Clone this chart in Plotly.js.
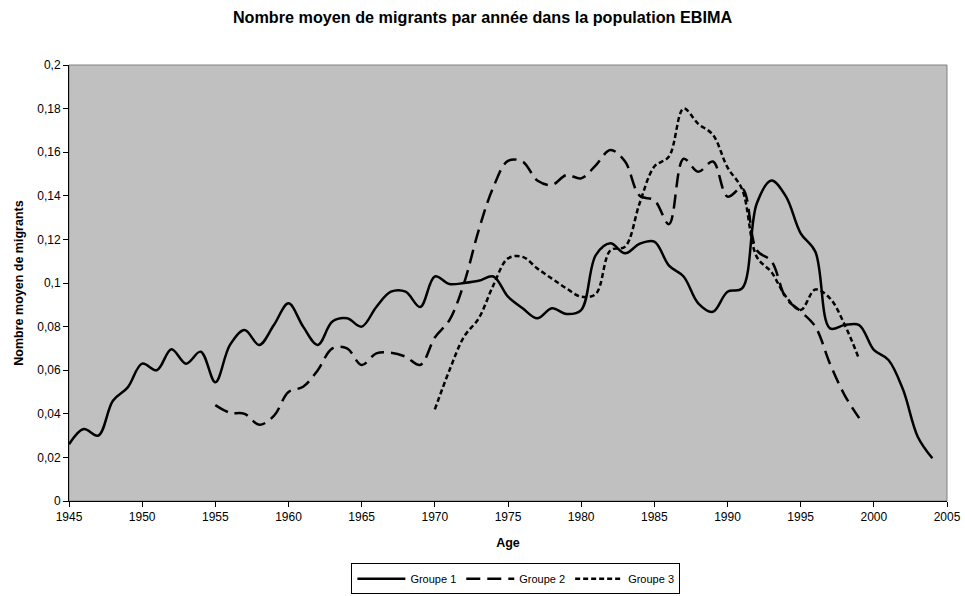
<!DOCTYPE html>
<html>
<head>
<meta charset="utf-8">
<script src="https://cdn.plot.ly/plotly-3.0.1.min.js"></script>
<style>html,body{margin:0;padding:0;background:#fff;}#chart{width:965px;height:596px;}</style>
</head>
<body>
<div id="chart"></div>
<script>
const years1 = [1945,1946,1947,1948,1949,1950,1951,1952,1953,1954,1955,1956,1957,1958,1959,1960,1961,1962,1963,1964,1965,1966,1967,1968,1969,1970,1971,1972,1973,1974,1975,1976,1977,1978,1979,1980,1981,1982,1983,1984,1985,1986,1987,1988,1989,1990,1991,1992,1993,1994,1995,1996,1997,1998,1999,2000,2001,2002,2003,2004];
const groupe1 = [0.026,0.033,0.030,0.046,0.052,0.063,0.060,0.0696,0.063,0.0685,0.0545,0.0716,0.0784,0.0716,0.0807,0.0907,0.080,0.0716,0.0823,0.0838,0.080,0.089,0.096,0.096,0.089,0.103,0.0995,0.100,0.101,0.103,0.0937,0.0884,0.0838,0.0884,0.0858,0.0876,0.1128,0.1182,0.1136,0.118,0.119,0.108,0.103,0.0907,0.0868,0.096,0.0975,0.1365,0.147,0.1396,0.1228,0.1144,0.0792,0.0807,0.0807,0.0693,0.0647,0.051,0.0295,0.0196];

const years2 = [1955,1956,1957,1958,1959,1960,1961,1962,1963,1964,1965,1966,1967,1968,1969,1970,1971,1972,1973,1974,1975,1976,1977,1978,1979,1980,1981,1982,1983,1984,1985,1986,1987,1988,1989,1990,1991,1992,1993,1994,1995,1996,1997,1998,1999];
const groupe2 = [0.044,0.0405,0.040,0.035,0.039,0.050,0.0524,0.060,0.070,0.070,0.0624,0.0677,0.068,0.0662,0.0624,0.075,0.083,0.100,0.1243,0.144,0.156,0.1557,0.147,0.145,0.1495,0.148,0.154,0.161,0.1557,0.140,0.138,0.127,0.157,0.151,0.1557,0.1396,0.1434,0.115,0.110,0.093,0.087,0.080,0.063,0.0486,0.038];

const years3 = [1970,1971,1972,1973,1974,1975,1976,1977,1978,1979,1980,1981,1982,1983,1984,1985,1986,1987,1988,1989,1990,1991,1992,1993,1994,1995,1996,1997,1998,1999];
const groupe3 = [0.042,0.060,0.0754,0.0838,0.099,0.1113,0.112,0.1067,0.102,0.0975,0.0937,0.095,0.115,0.1167,0.1367,0.1534,0.158,0.180,0.173,0.168,0.153,0.143,0.112,0.105,0.0937,0.0876,0.097,0.093,0.081,0.065];

const seriesNames = ['Groupe 1','Groupe 2','Groupe 3'];
const font = 'Liberation Sans, Arial, sans-serif';

const traces = [
  {x: years1, y: groupe1, name: seriesNames[0], mode: 'lines',
   line: {color: '#000', width: 2.5, shape: 'spline', smoothing: 1, dash: 'solid'}},
  {x: years2, y: groupe2, name: seriesNames[1], mode: 'lines',
   line: {color: '#000', width: 2.5, shape: 'spline', smoothing: 1, dash: '14px,7px'}},
  {x: years3, y: groupe3, name: seriesNames[2], mode: 'lines',
   line: {color: '#000', width: 2.5, shape: 'spline', smoothing: 1, dash: '5px,3px'}}
];

const layout = {
  width: 965, height: 596,
  margin: {l: 69, r: 18, t: 65, b: 95, autoexpand: false},
  paper_bgcolor: '#fff',
  plot_bgcolor: '#C0C0C0',
  separators: ', ',
  font: {family: font, size: 12, color: '#000'},
  title: {text: '<b>Nombre moyen de migrants par année dans la population EBIMA</b>',
          font: {family: font, size: 16.2, color: '#000'}, x: 0.5, xanchor: 'center', y: 0.971, yanchor: 'middle'},
  xaxis: {range: [1945, 2005], dtick: 5, tick0: 1945, ticks: 'outside', ticklen: 5, tickcolor: '#000',
          showline: true, linecolor: '#000', linewidth: 1, showgrid: false, zeroline: false,
          tickfont: {family: font, size: 12, color: '#000'},
          title: {text: '<b>Age</b>', font: {family: font, size: 12.5, color: '#000'}, standoff: 14}},
  yaxis: {range: [0, 0.2], dtick: 0.02, tick0: 0, ticks: 'outside', ticklen: 5, tickcolor: '#000',
          showline: true, linecolor: '#000', linewidth: 1, showgrid: false, zeroline: false,
          tickfont: {family: font, size: 12, color: '#000'},
          title: {text: '<b>Nombre moyen de migrants</b>', font: {family: font, size: 12.5, color: '#000'}, standoff: 10}},
  shapes: [{type: 'rect', xref: 'paper', yref: 'paper', x0: 0, x1: 1, y0: 0, y1: 1,
            line: {color: '#808080', width: 1}, fillcolor: 'rgba(0,0,0,0)', layer: 'below'}],
  legend: {orientation: 'h', x: 0.509, xanchor: 'center', y: -0.143, yanchor: 'top',
           bordercolor: '#000', borderwidth: 1, bgcolor: '#fff',
           font: {family: font, size: 11, color: '#000'}, itemwidth: 48, tracegroupgap: 0},
  showlegend: true
};

Plotly.newPlot('chart', traces, layout, {displayModeBar: false, staticPlot: true});
</script>
</body>
</html>
